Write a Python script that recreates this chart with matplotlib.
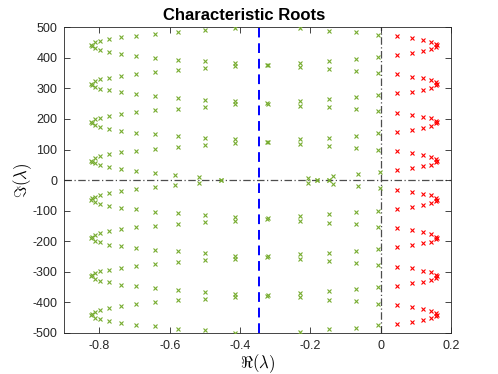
import matplotlib
matplotlib.use("Agg")
import matplotlib.pyplot as plt
import numpy as np

plt.rcParams['font.family'] = ['Liberation Sans', 'DejaVu Sans']
plt.rcParams['mathtext.fontset'] = 'cm'

# Roots in the upper half plane (real, imag); conjugates are added below
stable_re = [-0.823, -0.821, -0.823, -0.821, -0.823, -0.821, -0.823, -0.821,
             -0.8135, -0.8135, -0.8135, -0.8135, -0.8135, -0.8135, -0.8135, -0.8135,
             -0.798, -0.798, -0.798, -0.798, -0.798, -0.798, -0.798, -0.798,
             -0.773, -0.773, -0.773, -0.773, -0.773, -0.773, -0.773, -0.773,
             -0.740, -0.740, -0.740, -0.740, -0.740, -0.740, -0.740, -0.740,
             -0.696, -0.696, -0.696, -0.696, -0.696, -0.696, -0.696, -0.696,
             -0.641, -0.641, -0.641, -0.641, -0.641, -0.641, -0.641, -0.641,
             -0.577, -0.577, -0.577, -0.577, -0.577, -0.577, -0.577, -0.585,
             -0.500, -0.500, -0.500, -0.500, -0.500, -0.500, -0.500, -0.516,
             -0.414, -0.414, -0.414, -0.414, -0.414, -0.414, -0.414, -0.455,
             -0.323, -0.321, -0.323, -0.321, -0.323, -0.321,
             -0.231, -0.231, -0.231, -0.231, -0.231, -0.231, -0.231, -0.207,
             -0.181, -0.148,
             -0.146, -0.146, -0.146, -0.146, -0.146, -0.146, -0.146, -0.135,
             -0.070, -0.070, -0.070, -0.070, -0.070, -0.070, -0.070, -0.064,
             -0.007, -0.007, -0.007, -0.007, -0.007, -0.007, -0.007, -0.002]
stable_im = [442, 438, 315, 311, 190, 186, 64, 60,
             451, 431, 324, 305, 199, 180, 73, 55,
             456, 426, 330, 299, 204, 174, 79, 48,
             462, 420, 335, 294, 211, 168, 84, 42,
             467, 413, 342, 287, 216, 160, 91, 36,
             473, 406, 347, 281, 222, 155, 96, 29,
             479, 399, 354, 275, 228, 150, 103, 24,
             486, 394, 360, 268, 233, 143, 109, 17,
             492, 389, 366, 263, 240, 137, 115, 11,
             499, 384, 374, 259, 248, 133, 122, 0,
             378, 376, 252, 250, 126, 124,
             497, 384, 370, 259, 243, 133, 119, 8,
             0, 0,
             489, 391, 363, 265, 238, 139, 112, 14,
             484, 397, 358, 272, 231, 145, 106, 19,
             475, 404, 351, 278, 226, 153, 100, 27]

unstable_re = [0.046, 0.046, 0.046, 0.046, 0.046, 0.046, 0.046, 0.046,
               0.088, 0.088, 0.088, 0.088, 0.088, 0.088, 0.088, 0.088,
               0.120, 0.120, 0.120, 0.120, 0.120, 0.120, 0.120, 0.120,
               0.142, 0.142, 0.142, 0.142, 0.142, 0.142, 0.142, 0.142,
               0.156, 0.156, 0.156, 0.156, 0.156, 0.156, 0.156, 0.156,
               0.159, 0.159, 0.159, 0.159]
unstable_im = [471, 409, 346, 284, 220, 158, 95, 33,
               464, 416, 338, 289, 213, 164, 87, 38,
               458, 422, 333, 296, 207, 170, 82, 45,
               453, 428, 327, 302, 202, 177, 76, 50,
               445, 436, 320, 311, 194, 186, 69, 60,
               441, 315, 190, 64]

abscissa = -0.346

xticks = [-0.8, -0.6, -0.4, -0.2, 0, 0.2]
yticks = [-500, -400, -300, -200, -100, 0, 100, 200, 300, 400, 500]

# add complex conjugates
s_re = np.concatenate([stable_re, stable_re])
s_im = np.concatenate([stable_im, -np.array(stable_im)])
u_re = np.concatenate([unstable_re, unstable_re])
u_im = np.concatenate([unstable_im, -np.array(unstable_im)])

fig = plt.figure(figsize=(4.98, 3.74), dpi=100)
ax = fig.add_axes([0.129, 0.110, 0.777, 0.817])

ax.axhline(0, color='#4d4d4d', lw=0.9, ls=(0, (6, 2, 1, 2)), zorder=1)
ax.axvline(0, color='#4d4d4d', lw=0.9, ls=(0, (6, 2, 1, 2)), zorder=1)
ax.axvline(abscissa, color='#0000ff', lw=1.4, ls=(0, (5, 3)), zorder=1)

ax.plot(s_re, s_im, 'x', color='#77ac30', ms=3.2, mew=0.8, zorder=3)
ax.plot(u_re, u_im, 'x', color='#ff0000', ms=3.2, mew=0.8, zorder=3)

ax.set_xlim(-0.9, 0.2)
ax.set_ylim(-500, 500)
ax.set_xticks(xticks)
ax.set_xticklabels(['-0.8', '-0.6', '-0.4', '-0.2', '0', '0.2'])
ax.set_yticks(yticks)
ax.set_yticklabels([str(t) for t in yticks])
ax.tick_params(direction='in', top=True, right=True, length=4, width=0.6,
               labelsize=9, colors='#262626', pad=5)
for sp in ax.spines.values():
    sp.set_linewidth(0.6)
    sp.set_color('#262626')

ax.set_title('Characteristic Roots', fontsize=12, fontweight='bold', pad=5,
             x=0.465)
ax.set_xlabel(r'$\Re(\lambda)$', fontsize=12, labelpad=0)
ax.set_ylabel(r'$\Im(\lambda)$', fontsize=12, labelpad=-1)

fig.savefig('out.png', dpi=100)
